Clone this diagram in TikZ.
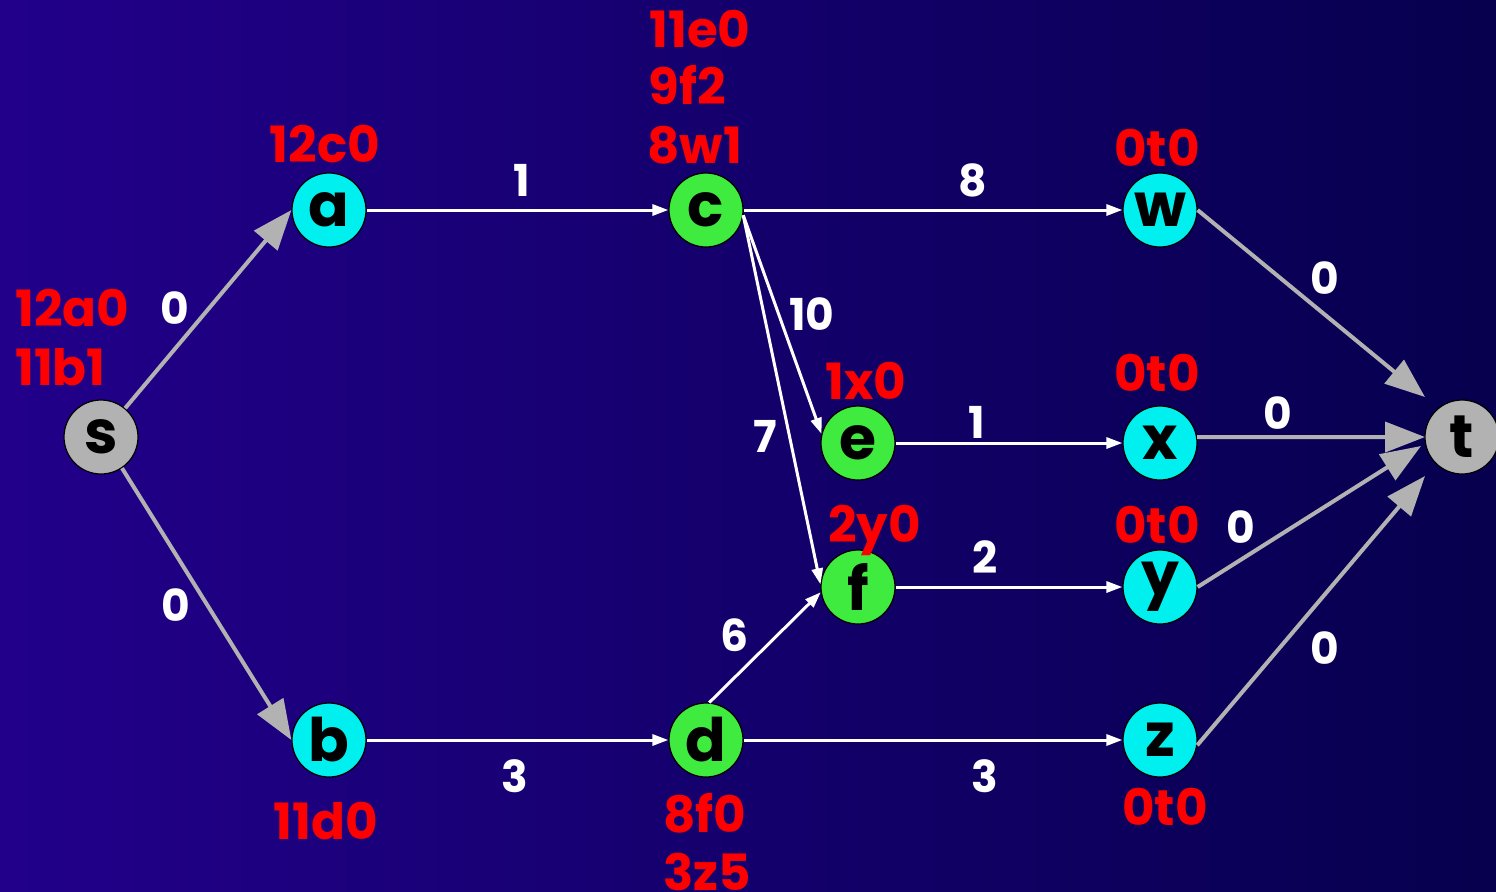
\documentclass[tikz,border=0pt]{standalone}
\usepackage{fontspec}
\setmainfont{Poppins}
\usetikzlibrary{arrows.meta}
\definecolor{bgL}{RGB}{34,0,138}
\definecolor{bgR}{RGB}{6,0,78}
\definecolor{nodecyan}{RGB}{0,240,240}
\definecolor{nodegreen}{RGB}{64,235,64}
\definecolor{nodegray}{RGB}{178,178,178}
\definecolor{labred}{RGB}{255,0,0}
\begin{document}
\begin{tikzpicture}[x=0.5pt,y=-0.5pt,
  vert/.style={circle,draw=black,line width=0.6pt,minimum size=37pt,inner sep=0pt,font=\fontsize{30}{30}\selectfont\bfseries},
  cy/.style={vert,fill=nodecyan},
  gr/.style={vert,fill=nodegreen},
  gy/.style={vert,fill=nodegray},
  wedge/.style={draw=white,line width=1.5pt,-{Triangle[length=8pt,width=5.5pt]}},
  gedge/.style={draw=nodegray,line width=2pt,-{Triangle[length=20pt,width=15pt]}},
  wlab/.style={text=white,font=\fontsize{22}{22}\selectfont\bfseries,inner sep=0pt},
  rlab/.style={text=labred,font=\fontsize{25}{25}\selectfont\bfseries,inner sep=0pt}]
\clip (0,0) rectangle (1496,891);
\shade[left color=bgL,right color=bgR] (0,0) rectangle (1496,891);
% nodes
\node[gy] (s) at (101,437) {s};
\node[cy] (a) at (329,210) {a};
\node[gr] (c) at (706,210) {c};
\node[cy] (w) at (1160,210) {w};
\node[gr] (e) at (858,443) {e};
\node[cy] (x) at (1160,443) {x};
\node[gr] (f) at (858,587) {f};
\node[cy] (y) at (1160,587) {y};
\node[cy] (b) at (329,740) {b};
\node[gr] (d) at (706,740) {d};
\node[cy] (z) at (1160,740) {z};
\node[gy] (t) at (1462,437) {t};
% arrow ends at t
\coordinate (tw) at (1425,397);
\coordinate (tx) at (1425,437);
\coordinate (ty) at (1421,446);
\coordinate (tz) at (1425,476);
% edges
\draw[gedge] (s.50) -- (a.west);
\draw[gedge] (s.-56) -- (b.west);
\draw[wedge] (a) -- (c);
\draw[wedge] (c) -- (w);
\draw[wedge] (c.-8) -- (e.166);
\draw[wedge] (c.-8) -- (f.176);
\draw[wedge] (e) -- (x);
\draw[wedge] (f) -- (y);
\draw[wedge] (b) -- (d);
\draw[wedge] (d.85) -- (f.188);
\draw[wedge] (d) -- (z);
\draw[gedge] (w.east) -- (tw);
\draw[gedge] (x.9) -- (tx);
\draw[gedge] (y.east) -- (ty);
\draw[gedge] (z.-8) -- (tz);
% white weights
\node[wlab] (l1) at (175,308) {0};
\node[wlab] (l2) at (176,605) {0};
\node[wlab] (l3) at (522,180) {1};
\node[wlab] (l4) at (973,180) {8};
\node[wlab] (l5) at (812,314) {10};
\node[wlab] (l6) at (765,436) {7};
\node[wlab] (l7) at (977,422) {1};
\node[wlab] (l8) at (985,557) {2};
\node[wlab] (l9) at (735,635) {6};
\node[wlab] (l10) at (515,776) {3};
\node[wlab] (l11) at (985,776) {3};
\node[wlab] (l12) at (1325,278) {0};
\node[wlab] (l13) at (1278,413) {0};
\node[wlab] (l14) at (1241,527) {0};
\node[wlab] (l15) at (1325,648) {0};
% red labels
\node[rlab,anchor=base west] (r1) at (15,326) {12a0};
\node[rlab,anchor=base west] (r2) at (15,385) {11b1};
\node[rlab,anchor=base] (r3) at (325,162) {12c0};
\node[rlab,anchor=base west] (r4) at (649,47) {11e0};
\node[rlab,anchor=base west] (r5) at (648,104) {9f2};
\node[rlab,anchor=base west] (r6) at (647,163) {8w1};
\node[rlab,anchor=base] (r7) at (1157,166) {0t0};
\node[rlab,anchor=base west] (r8) at (825,399) {1x0};
\node[rlab,anchor=base] (r9) at (1157,391) {0t0};
\node[rlab,anchor=base west] (r10) at (828,542) {2y0};
\node[rlab,anchor=base] (r11) at (1157,543) {0t0};
\node[rlab,anchor=base] (r12) at (326,839) {11d0};
\node[rlab,anchor=base west] (r13) at (663,832) {8f0};
\node[rlab,anchor=base west] (r14) at (663,890) {3z5};
\node[rlab,anchor=base] (r15) at (1165,825) {0t0};
\end{tikzpicture}
\end{document}
